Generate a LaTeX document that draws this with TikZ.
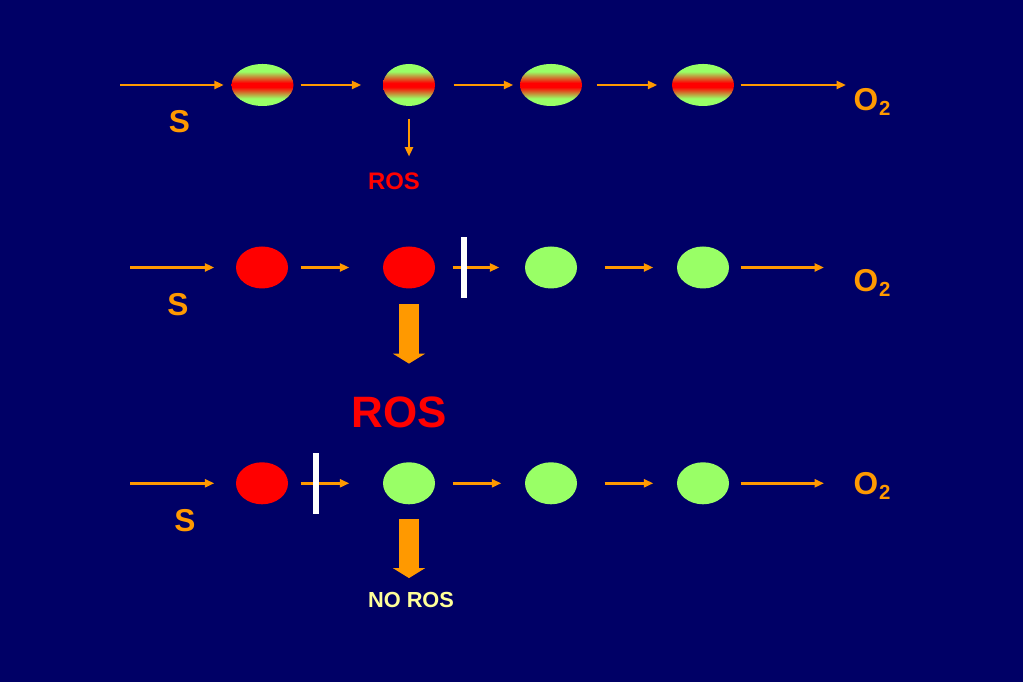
\documentclass[tikz,border=0pt]{standalone}
\usepackage{fontspec}
\setmainfont{Liberation Sans}
\usetikzlibrary{arrows.meta,positioning,shapes.geometric}
\definecolor{navy}{HTML}{000066}
\definecolor{chainorange}{HTML}{FF9900}
\definecolor{chaingreen}{HTML}{99FF66}
\definecolor{chainred}{HTML}{FF0000}
\definecolor{paleyellow}{HTML}{FFFF99}
\pgfdeclareverticalshading{redoxband}{100bp}{color(0bp)=(chaingreen);
  color(34bp)=(chaingreen); color(47.5bp)=(chainred); color(52.5bp)=(chainred);
  color(66bp)=(chaingreen); color(100bp)=(chaingreen)}
\tikzset{
  redox/.style={ellipse,inner sep=0pt,minimum width=5.2mm,minimum height=4.2mm},
  mixed/.style={redox,shading=redoxband},
  reduced/.style={redox,fill=chainred},
  oxidized/.style={redox,fill=chaingreen},
  flow/.style={-{Triangle[length=0.95mm,width=0.8mm]},line width=0.8pt,
               draw=chainorange},
  fatflow/.style={-{Triangle[length=1mm,width=3.2mm]},line width=2mm,
                  draw=chainorange},
  blocker/.style={rectangle,fill=white,inner sep=0pt,
                  minimum width=0.6mm,minimum height=6.1mm},
  lbl/.style={font=\bfseries\fontsize{9}{10}\selectfont,text=chainorange,
              inner sep=0pt}
}
\newcommand{\oxy}{O\kern0.2pt\raisebox{-1.2pt}{\fontsize{5.8}{7}\selectfont 2}}

\begin{document}
\begin{tikzpicture}[x=1cm,y=1cm]
    \fill[navy] (0,0) rectangle (10.23,6.82);
    \path[use as bounding box] (0,0) rectangle (10.23,6.82);

    % top chain: carriers half reduced
    \node[mixed,minimum width=6.2mm] (a1) at (2.625,5.97) {};
    \node[mixed] (a2) at (4.09,5.97) {};
    \node[mixed,minimum width=6.2mm] (a3) at (5.51,5.97) {};
    \node[mixed,minimum width=6.2mm] (a4) at (7.03,5.97) {};
    \coordinate (s1) at (1.20,5.97);
    \node[lbl,anchor=base] (sa) at (1.795,5.49) {S};
    \node[lbl,anchor=base west] (oa) at (8.53,5.71) {\oxy};
    \node[lbl,text=chainred,font=\bfseries\fontsize{6.8}{8}\selectfont,
          anchor=base] (rosa) at (3.94,4.92) {ROS};
    \draw[flow,shorten >=0.7mm] (s1) -- (a1.west);
    \draw[flow,shorten <=0.65mm,shorten >=2.1mm] (a1.east) -- (a2.west);
    \draw[flow,shorten <=1.8mm,shorten >=0.6mm] (a2.east) -- (a3.west);
    \draw[flow,shorten <=1.4mm,shorten >=1.4mm] (a3.east) -- (a4.west);
    \draw[flow,shorten <=0.6mm,shorten >=0.7mm] (a4.east) -- (a4.east -| oa.west);
    \draw[flow,shorten <=1.2mm,shorten >=1.6mm] (a2.south) -- (a2.south |- rosa.north);

    % middle chain: blocked after the second carrier
    \node[reduced] (b1) at (2.62,4.145) {};
    \node[reduced] (b2) at (4.09,4.145) {};
    \node[oxidized] (b3) at (5.51,4.145) {};
    \node[oxidized] (b4) at (7.03,4.145) {};
    \coordinate (s2) at (1.30,4.145);
    \node[lbl,anchor=base] (sb) at (1.78,3.66) {S};
    \node[lbl,anchor=base west] (ob) at (8.53,3.90) {\oxy};
    \node[lbl,text=chainred,font=\bfseries\fontsize{12.5}{14}\selectfont,
          anchor=base] (rosb) at (3.99,2.54) {ROS};
    \draw[flow,shorten >=2.1mm] (s2) -- (b1.west);
    \draw[flow,shorten <=1.2mm,shorten >=3.3mm] (b1.east) -- (b2.west);
    \draw[flow,shorten <=1.7mm,shorten >=2.5mm] (b2.east) -- (b3.west);
    \draw[flow,shorten <=2.7mm,shorten >=2.3mm] (b3.east) -- (b4.west);
    \draw[flow,shorten <=1.1mm,shorten >=2.9mm] (b4.east) -- (b4.east -| ob.west);
    \node[blocker] (k1) at (4.637,4.145) {};
    \draw[fatflow,shorten <=1.5mm,shorten >=3.3mm] (b2.south) -- (b2.south |- rosb.north);

    % bottom chain: blocked after the first carrier
    \node[reduced] (c1) at (2.62,1.987) {};
    \node[oxidized] (c2) at (4.09,1.987) {};
    \node[oxidized] (c3) at (5.51,1.987) {};
    \node[oxidized] (c4) at (7.03,1.987) {};
    \coordinate (s3) at (1.30,1.987);
    \node[lbl,anchor=base] (sc) at (1.85,1.50) {S};
    \node[lbl,anchor=base west] (oc) at (8.53,1.87) {\oxy};
    \node[lbl,text=paleyellow,font=\bfseries\fontsize{6.2}{7}\selectfont,
          anchor=base] (norosc) at (4.11,0.74) {NO ROS};
    \draw[flow,shorten >=2.1mm] (s3) -- (c1.west);
    \draw[flow,shorten <=1.2mm,shorten >=3.3mm] (c1.east) -- (c2.west);
    \draw[flow,shorten <=1.7mm,shorten >=2.3mm] (c2.east) -- (c3.west);
    \draw[flow,shorten <=2.7mm,shorten >=2.3mm] (c3.east) -- (c4.west);
    \draw[flow,shorten <=1.1mm,shorten >=2.9mm] (c4.east) -- (c4.east -| oc.west);
    \node[blocker] (k2) at (3.16,1.985) {};
    \draw[fatflow,shorten <=1.4mm,shorten >=1.4mm] (c2.south) -- (c2.south |- norosc.north);
\end{tikzpicture}
\end{document}
